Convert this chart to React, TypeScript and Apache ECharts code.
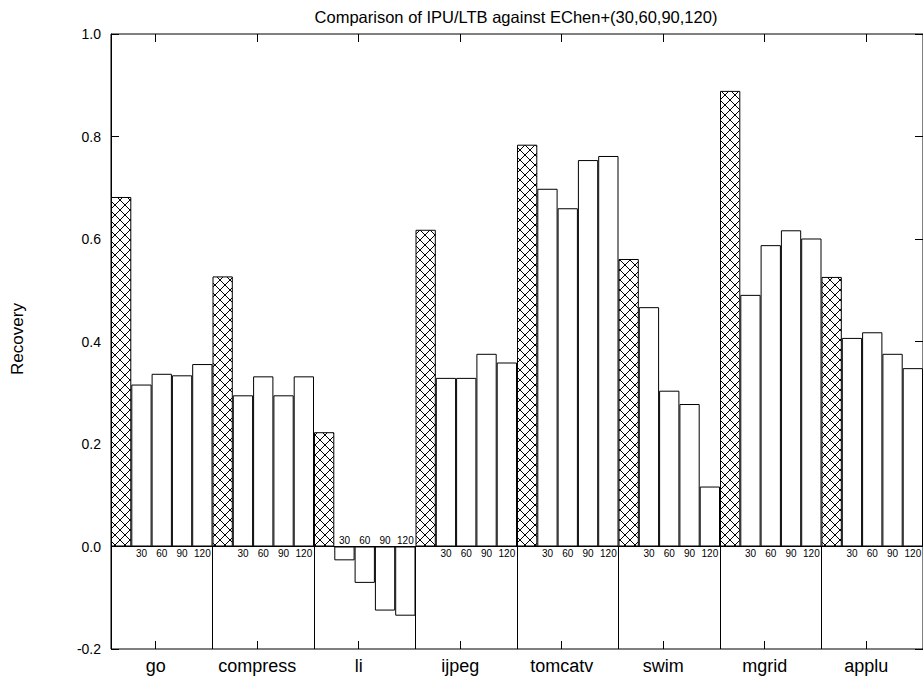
import React, { useEffect, useRef } from "react";
import * as echarts from "echarts";

// ---- data ----
const groups = ["go", "compress", "li", "ijpeg", "tomcatv", "swim", "mgrid", "applu"];
const windowLabels = ["30", "60", "90", "120"];
const ipuLtb = [0.682, 0.527, 0.223, 0.618, 0.784, 0.561, 0.889, 0.526];
const echen30 = [0.316, 0.295, -0.027, 0.329, 0.698, 0.467, 0.491, 0.407];
const echen60 = [0.337, 0.332, -0.071, 0.329, 0.66, 0.304, 0.588, 0.418];
const echen90 = [0.334, 0.295, -0.125, 0.376, 0.754, 0.278, 0.617, 0.376];
const echen120 = [0.356, 0.332, -0.135, 0.359, 0.762, 0.117, 0.601, 0.348];
const yMin = -0.2;
const yMax = 1.0;
const yStep = 0.2;
const titleText = "Comparison of IPU/LTB against EChen+(30,60,90,120)";
const yName = "Recovery";

const FONT = "'Liberation Sans', Arial, Helvetica, sans-serif";

export default function App() {
  const ref = useRef<HTMLDivElement>(null);

  useEffect(() => {
    if (!ref.current) return;
    const chart = echarts.init(ref.current, null, { renderer: "svg" });

    // crosshatch pattern
    const cv = document.createElement("canvas");
    cv.width = 10;
    cv.height = 10;
    const ctx = cv.getContext("2d")!;
    ctx.fillStyle = "#fff";
    ctx.fillRect(0, 0, 10, 10);
    ctx.strokeStyle = "#000";
    ctx.lineWidth = 1;
    ctx.beginPath();
    ctx.moveTo(0, 0);
    ctx.lineTo(10, 10);
    ctx.moveTo(10, 0);
    ctx.lineTo(0, 10);
    ctx.stroke();

    const perGroup = windowLabels.length + 1;
    const labelOffset = 2.2; // group label sits 2.2 bar widths into its group
    const echen = [echen30, echen60, echen90, echen120];
    const slots = groups.flatMap((g) => ["IPU/LTB", ...windowLabels].map((w) => `${g} ${w}`));
    const hatchData: any[] = groups.flatMap((_, i) => [ipuLtb[i], ...windowLabels.map(() => "-")]);
    const echenData: any[] = groups.flatMap((_, i) => [
      "-",
      ...echen.map((s) => ({
        value: s[i],
        label: s[i] < 0 ? { position: "top", distance: 1 } : { position: "bottom", distance: 2 },
      })),
    ]);
    const separators = groups.slice(1).map((_, i) => ({
      coords: [
        [(i + 1) * perGroup, yMin],
        [(i + 1) * perGroup, 0],
      ],
    }));
    const groupTicks = groups.map((_, i) => i * perGroup + labelOffset);

    const tickStyle = { show: true, inside: true, length: 8, lineStyle: { color: "#000", width: 1 } };

    const option: any = {
      animation: false,
      backgroundColor: "#fff",
      textStyle: { fontFamily: FONT, color: "#000" },
      graphic: [
        {
          type: "text",
          x: 516,
          y: 17,
          style: { text: titleText, font: `16.5px ${FONT}`, fill: "#000", align: "center", verticalAlign: "middle" },
        },
        {
          type: "text",
          x: 17,
          y: 339,
          rotation: Math.PI / 2,
          style: { text: yName, font: `17px ${FONT}`, fill: "#000", align: "center", verticalAlign: "middle" },
        },
      ],
      grid: [{ left: 111, top: 34, width: 817.1, height: 615, show: true, borderColor: "#000", borderWidth: 1, containLabel: false }],
      xAxis: [
        {
          type: "category",
          gridIndex: 0,
          data: slots,
          boundaryGap: true,
          axisLine: { show: false, onZero: false },
          axisTick: { show: false },
          axisLabel: { show: false },
          splitLine: { show: false },
        },
        {
          type: "value",
          gridIndex: 0,
          position: "bottom",
          min: 0,
          max: slots.length,
          axisLine: { show: false, onZero: false },
          axisTick: { ...tickStyle, customValues: groupTicks },
          axisLabel: {
            show: true,
            customValues: groupTicks,
            fontSize: 18,
            color: "#000",
            margin: 8,
            fontFamily: FONT,
            formatter: (v: number) => groups[Math.round((v - labelOffset) / perGroup)] ?? "",
          },
          splitLine: { show: false },
        },
        {
          type: "value",
          gridIndex: 0,
          position: "top",
          min: 0,
          max: slots.length,
          axisLine: { show: false, onZero: false },
          axisTick: { ...tickStyle, customValues: groupTicks },
          axisLabel: { show: false },
          splitLine: { show: false },
        },
      ],
      yAxis: [
        {
          type: "value",
          gridIndex: 0,
          position: "left",
          min: yMin,
          max: yMax,
          interval: yStep,
          axisLine: { show: true, onZero: false, lineStyle: { color: "#000", width: 1 } },
          axisTick: tickStyle,
          axisLabel: {
            show: true,
            color: "#000",
            fontSize: 14,
            margin: 10,
            fontFamily: FONT,
            formatter: (v: number) => v.toFixed(1),
          },
          splitLine: { show: false },
        },
        {
          type: "value",
          gridIndex: 0,
          position: "right",
          min: yMin,
          max: yMax,
          interval: yStep,
          axisLine: { show: true, onZero: false, lineStyle: { color: "#000", width: 1 } },
          axisTick: tickStyle,
          axisLabel: { show: false },
          splitLine: { show: false },
        },
      ],
      series: [
        {
          name: "IPU/LTB",
          type: "bar",
          xAxisIndex: 0,
          yAxisIndex: 0,
          data: hatchData,
          barWidth: "100%",
          barGap: "-100%",
          itemStyle: {
            color: { image: cv, repeat: "repeat", imageWidth: 10, imageHeight: 10 },
            borderColor: "#000",
            borderWidth: 1,
          },
          z: 2,
        },
        {
          name: "EChen+",
          type: "bar",
          xAxisIndex: 0,
          yAxisIndex: 0,
          data: echenData,
          barWidth: "100%",
          barGap: "-100%",
          itemStyle: { color: "#fff", borderColor: "#000", borderWidth: 1 },
          label: {
            show: true,
            color: "#000",
            fontSize: 10,
            fontFamily: FONT,
            formatter: (p: any) => windowLabels[(p.dataIndex % perGroup) - 1],
          },
          z: 2,
        },
        {
          name: "separators",
          type: "lines",
          coordinateSystem: "cartesian2d",
          xAxisIndex: 1,
          yAxisIndex: 0,
          polyline: false,
          data: [...separators, { coords: [[0, 0], [slots.length, 0]] }],
          lineStyle: { color: "#000", width: 1, opacity: 1, curveness: 0 },
          silent: true,
          z: 3,
        },
      ],
    };

    chart.setOption(option);
    return () => chart.dispose();
  }, []);

  return (
    <div
      ref={ref}
      style={{ position: "absolute", left: 0, top: 0, width: 923, height: 679, background: "#fff" }}
    />
  );
}
